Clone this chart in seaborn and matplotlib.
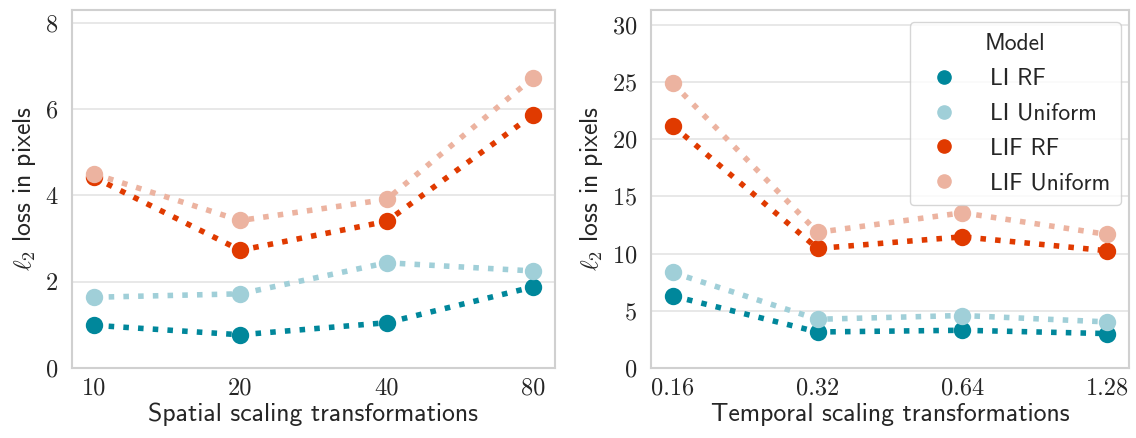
import numpy as np
import pandas as pd
import matplotlib
matplotlib.use("Agg")
import matplotlib.pyplot as plt
import seaborn as sns

models = ["LI RF", "LI Uniform", "LIF RF", "LIF Uniform"]
spatial_x = ["10", "20", "40", "80"]
temporal_x = ["0.16", "0.32", "0.64", "1.28"]

spatial_li_rf = [0.99, 0.77, 1.05, 1.88]
spatial_li_uniform = [1.64, 1.72, 2.44, 2.25]
spatial_lif_rf = [4.42, 2.73, 3.40, 5.87]
spatial_lif_uniform = [4.50, 3.42, 3.91, 6.73]

temporal_li_rf = [6.30, 3.15, 3.30, 3.01]
temporal_li_uniform = [8.35, 4.26, 4.59, 4.03]
temporal_lif_rf = [21.19, 10.45, 11.47, 10.25]
temporal_lif_uniform = [24.9, 11.86, 13.57, 11.68]

palette = ["#00879b", "#a0cfd8", "#e03a00", "#ecb3a0"]

def long_df(xs, series):
    rows = []
    for m, vals in zip(models, series):
        for x, v in zip(xs, vals):
            rows.append({"x": x, "loss": v, "Model": m})
    return pd.DataFrame(rows)

df_s = long_df(spatial_x, [spatial_li_rf, spatial_li_uniform, spatial_lif_rf, spatial_lif_uniform])
df_t = long_df(temporal_x, [temporal_li_rf, temporal_li_uniform, temporal_lif_rf, temporal_lif_uniform])

sns.set_theme(style="whitegrid", rc={"grid.color": "#e2e2e2", "grid.linewidth": 1.1})
plt.rcParams["mathtext.fontset"] = "cm"
plt.rcParams["font.family"] = ["cmss10", "DejaVu Sans"]
plt.rcParams["axes.formatter.use_mathtext"] = True

W, H = 1136, 438
fig = plt.figure(figsize=(W / 100, H / 100), dpi=100)
ax1 = fig.add_axes([72 / W, (H - 368) / H, (555 - 72) / W, (368 - 10) / H])
ax2 = fig.add_axes([651 / W, (H - 368) / H, (1129 - 651) / W, (368 - 10) / H])

for ax, df, order, ylim, yticks, xlabel, leg in [
    (ax1, df_s, spatial_x, (0, 8.3), [0, 2, 4, 6, 8], "Spatial scaling transformations", False),
    (ax2, df_t, temporal_x, (0, 31.3), [0, 5, 10, 15, 20, 25, 30], "Temporal scaling transformations", True),
]:
    sns.pointplot(data=df, x="x", y="loss", hue="Model", order=order, hue_order=models,
                  palette=palette, linestyles=":", markers="o", markersize=9.5,
                  linewidth=4.0, ax=ax, legend=leg)
    ax.set_xlim(-0.15, 3.15)
    ax.set_ylim(*ylim)
    ax.set_yticks(yticks)
    ax.set_xlabel(xlabel, fontsize=18.5, family=["cmss10"], labelpad=2)
    ax.set_ylabel(r"$\ell_2$ loss in pixels", fontsize=18.5, family=["cmss10"], labelpad=5)
    for lab in ax.get_xticklabels() + ax.get_yticklabels():
        lab.set_fontfamily("cmr10")
        lab.set_fontsize(17.5)
    ax.tick_params(axis="x", pad=1)
    ax.tick_params(axis="y", pad=4)
    for s in ax.spines.values():
        s.set_color("#d0d0d0")
        s.set_linewidth(1.5)

# legend with markers only
handles = [plt.Line2D([], [], linestyle="none", marker="o", markersize=9.5, color=c) for c in palette]
leg = ax2.legend(handles, models, title="Model", loc="upper right", fontsize=17, title_fontsize=17,
                 frameon=True, borderpad=0.45, labelspacing=0.55, handletextpad=0.95,
                 handlelength=2.0, borderaxespad=0, bbox_to_anchor=(0.983, 0.966))
for t in leg.get_texts():
    t.set_fontfamily("cmss10")
leg.get_title().set_fontfamily("cmss10")

fig.savefig("out.png", dpi=100)
